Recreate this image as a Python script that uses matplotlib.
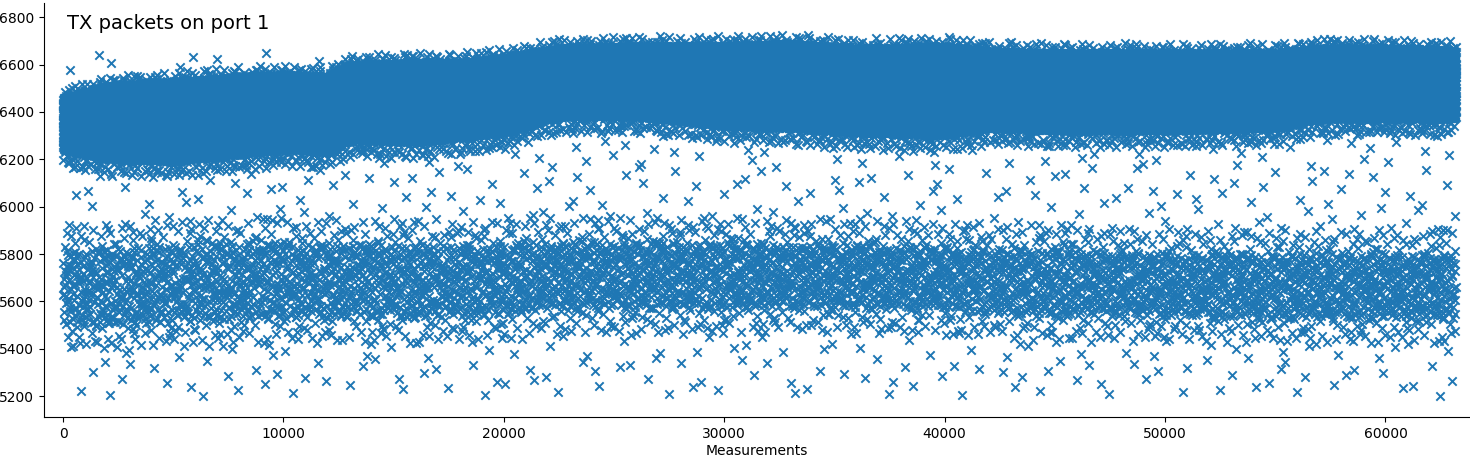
import numpy as np
import matplotlib
matplotlib.use("Agg")
import matplotlib.pyplot as plt

seg_x = [0, 2000, 5000, 8000, 10000, 12000, 13000, 16000, 18000, 20000, 22500,
         26000, 30000, 33000, 36000, 40000, 42000, 45000, 50000, 55000, 57000, 60000, 63200]
band_lo = [6240, 6200, 6190, 6220, 6240, 6230, 6280, 6270, 6290, 6310, 6380,
           6380, 6340, 6330, 6310, 6300, 6330, 6320, 6320, 6330, 6370, 6370, 6370]
band_hi = [6460, 6510, 6530, 6550, 6560, 6550, 6600, 6610, 6610, 6630, 6670,
           6680, 6680, 6690, 6670, 6680, 6660, 6650, 6650, 6650, 6670, 6670, 6660]
low_lo = [5500, 5500, 5510, 5520, 5530, 5530, 5540, 5530, 5530, 5550, 5570,
          5570, 5570, 5580, 5570, 5570, 5550, 5540, 5540, 5530, 5530, 5530, 5530]
low_hi = [5820, 5820, 5840, 5850, 5850, 5840, 5840, 5840, 5840, 5840, 5850,
          5850, 5850, 5840, 5840, 5830, 5820, 5820, 5800, 5800, 5800, 5800, 5800]
band_count = 60000
fringe_count = 5000
low_count = 3200
low_wide_count = 1800
gap_count = 900
sparse_lo, sparse_hi = 5200, 6650


def halton(k, base):
    out = np.zeros(len(k))
    f = 1.0
    k = k.copy()
    while np.any(k > 0):
        f /= base
        out += f * (k % base)
        k //= base
    return out


def fill(n, lo, hi, offset):
    k = np.arange(offset + 1, offset + n + 1)
    xs = seg_x[0] + (seg_x[-1] - seg_x[0]) * halton(k, 2)
    u = halton(k, 3)
    a = np.interp(xs, seg_x, lo)
    b = np.interp(xs, seg_x, hi)
    return xs, a + (b - a) * u


def shift(v, d):
    return [t + d for t in v]


parts = [
    fill(band_count, band_lo, band_hi, 0),
    fill(fringe_count, shift(band_lo, -70), shift(band_hi, 40), 70001),
    fill(low_count, low_lo, low_hi, 130003),
    fill(low_wide_count, shift(low_lo, -110), shift(low_hi, 110), 190007),
    fill(gap_count, [sparse_lo] * len(seg_x), [sparse_hi] * len(seg_x), 250011),
]
x = np.concatenate([p[0] for p in parts])
y = np.concatenate([p[1] for p in parts])

fig, ax = plt.subplots(figsize=(14.7, 4.57), dpi=100)
fig.subplots_adjust(left=0.030, right=0.999, top=0.993, bottom=0.087)
ax.scatter(x, y, marker="x", s=36, color="#1f77b4", linewidths=1.4)
ax.set_xlim(-860, 63770)
ax.set_ylim(5111, 6859)
ax.set_xticks([0, 10000, 20000, 30000, 40000, 50000, 60000])
ax.set_xlabel("Measurements", labelpad=2)
ax.spines["top"].set_visible(False)
ax.spines["right"].set_visible(False)
ax.text(0.016, 0.975, "TX packets on port 1", transform=ax.transAxes,
        fontsize=14, va="top", ha="left")
fig.savefig("out.png")
